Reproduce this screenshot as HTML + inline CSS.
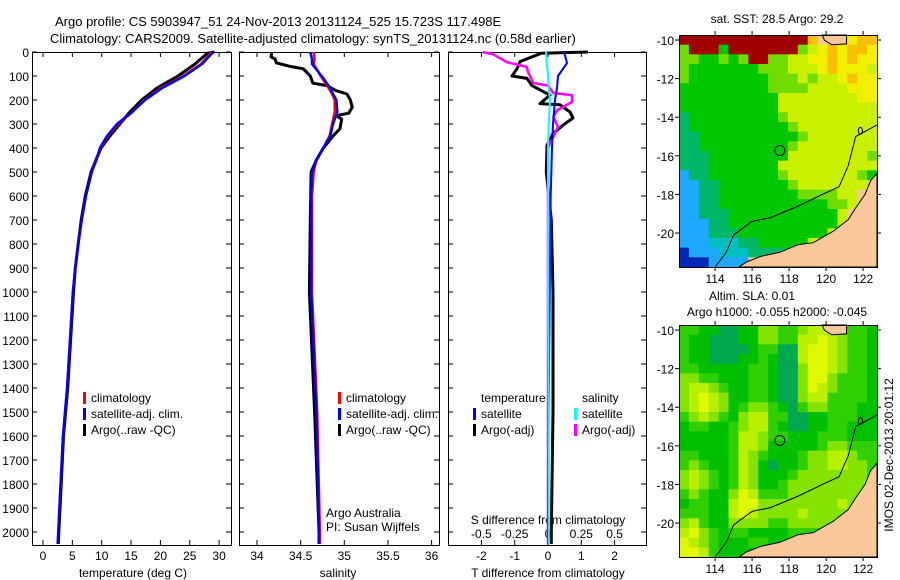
<!DOCTYPE html>
<html><head><meta charset="utf-8">
<style>
html,body{margin:0;padding:0;background:#fff;}
svg{display:block;font-family:"Liberation Sans",sans-serif;font-size:12px;}
</style></head>
<body>
<svg id="fig" width="900" height="580" viewBox="0 0 900 580" xmlns="http://www.w3.org/2000/svg">
<text x="55" y="26" font-size="13">Argo profile: CS 5903947_51 24-Nov-2013 20131124_525 15.723S 117.498E</text>
<text x="50" y="43" font-size="13">Climatology: CARS2009. Satellite-adjusted climatology: synTS_20131124.nc (0.58d earlier)</text>
<g id="g1"></g>
<g id="g2"></g>
<g id="g3"></g>
<g id="m1"></g>
<g id="m2"></g>
<text x="777" y="23" text-anchor="middle">sat. SST: 28.5 Argo: 29.2</text>
<text x="752" y="300" text-anchor="middle">Altim. SLA: 0.01</text>
<text x="777" y="316" text-anchor="middle">Argo h1000: -0.055 h2000: -0.045</text>
<text transform="translate(893,455) rotate(-90)" text-anchor="middle">IMOS 02-Dec-2013 20:01:12</text>
</svg>
<script>
// ---------- profile data ----------
const tDepth = [0,5,50,100,150,200,250,300,350,400,450,500,600,700,800,900,1000,1200,1400,1600,1800,2000,2050];
const tClim  = [28.7,28.6,26.9,23.9,20.1,17.3,15.2,12.8,11.0,9.8,9.0,8.3,7.3,6.6,6.0,5.5,5.1,4.6,4.1,3.4,3.0,2.6,2.5];
const tSat   = [28.9,28.8,27.1,24.1,20.3,17.4,15.2,12.6,10.9,9.7,9.1,8.3,7.3,6.6,6.0,5.5,5.1,4.6,4.1,3.4,3.0,2.6,2.5];
const tArgo  = [29.2,28.0,25.9,23.0,19.4,16.8,14.8,13.1,11.4,9.9,9.0,8.2,7.2,6.5,6.0,5.5,5.2,4.7,4.2,3.5,3.1,2.7,2.6];

const sDepth = [0,30,50,100,150,175,200,250,300,350,400,450,500,600,1000,1500,2000,2050];
const sClim  = [34.65,34.66,34.65,34.73,34.82,34.86,34.89,34.89,34.86,34.83,34.76,34.68,34.65,34.63,34.63,34.69,34.72,34.72];
const sSat   = [34.61,34.63,34.63,34.74,34.84,34.87,34.91,34.92,34.87,34.84,34.76,34.68,34.63,34.62,34.62,34.68,34.71,34.71];
const aDepth = [0,20,30,45,60,70,100,130,140,160,175,200,230,255,265,280,320,350,400,450,500,700,1000,1500,2000,2050];
const sArgo  = [34.17,34.16,34.21,34.22,34.38,34.53,34.61,34.64,34.80,34.90,35.03,35.07,35.09,35.05,34.91,34.97,34.95,34.87,34.76,34.68,34.62,34.61,34.60,34.66,34.71,34.71];

const dDepth = [0,46,100,150,200,250,300,400,600,1000,1500,2000,2050];
const dTsat  = [0.48,0.57,0.30,0.27,0.21,0.18,0.15,0.12,0.08,0.05,0.02,0.0,0.0];
const dSsat  = [-0.015,-0.01,0.0,0.005,0.015,0.01,0.005,0.0,0.0,0.0,0.005,0.005,0.005];
const daDepth= [0,5,40,70,100,110,140,180,215,220,250,275,305,340,390,500,700,1000,1500,2000,2050];
const dTargo = [1.2,-0.2,-0.84,-0.93,-1.08,-0.63,-0.48,0.06,-0.24,0.36,0.66,0.75,0.45,0.15,-0.03,-0.05,0.1,0.15,0.15,0.1,0.1];
const dsDepth= [0,10,42,62,83,129,140,171,180,208,242,270,312,354,400,600,1000,1500,2000,2050];
const dSargo = [-0.49,-0.41,-0.31,-0.16,-0.15,-0.11,0.0,0.04,0.18,0.18,0.07,0.04,0.075,0.04,0.0,0.0,0.0,0.0,0.0,0.0];

const depthTicks = [0,100,200,300,400,500,600,700,800,900,1000,1100,1200,1300,1400,1500,1600,1700,1800,1900,2000];
const tTicks = [0,5,10,15,20,25,30];
const sTicks = [34,34.5,35,35.5,36];
const sTickLabels = ["34","34.5","35","35.5","36"];
const dTTicks = [-2,-1,0,1,2];
const dSTicks = [-0.5,-0.25,0,0.25,0.5];
const dSTickLabels = ["-0.5","-0.25","0","0.25","0.5"];

// ---------- map data ----------
const sstRows = [
"RRRRRRRRRRRRR8LLL788","5RRR4RRRRRRR56787887","5544545RR55667787877","54444444555666787776",
"54444444455565667877","44444444455556666777","44444444446666666677","44444444446666666666",
"34444444445666666666","34444444444566666666","33444444444456666666","33444444444566666666",
"33344444444666666665","33344444446666666666","13344444445666666654","1133444444456666666L",
"113344444444555566LL","113344444444444556LL","11333444444444446LLL","11133444444444446LLL",
"1113334444444446LLLL","11122233444446LLLLLL","011122233334LLLLLLLL","0001111LLLLLLLLLLLLL"];
const slaRows = [
"33221122443345543332","32211122443355654332","32211112331156654332","32211122321156654332",
"33222223321146654332","44332223321146643332","45543223321146543332","45654223321145533332",
"45654234432134433322","34543245533112233322","23322345532112233222","22222355433222333222",
"22222355422222344333","33222354322234455433","34322354212234455443","45432354222344444443",
"45432354223444444444","34322465333444444444","23322566444444445444","33322565444454444444",
"45322444433444444444","56432332222333344444","65432223322222333444","66532222222222222444"];
const sstColors = {"0":"#0028b8","1":"#1ea8ff","3":"#00b868","4":"#00c800","5":"#70dc00","6":"#c8f000","7":"#f0f000","8":"#f8c000","R":"#a00000","L":"#f8c898","2":"#00c0c0"};
const slaColors = {"1":"#00a850","2":"#00c000","3":"#30d000","4":"#84e400","5":"#b8f000","6":"#e0f800"};
const landLon = [122.75,122.4,122.1,121.6,121.2,120.4,119.3,118.5,117.5,116.5,115.7,115.3,122.75];
const landLat = [-16.9,-17.3,-18.0,-18.7,-19.3,-19.9,-20.5,-20.6,-21.0,-21.2,-21.5,-21.76,-21.76];
const islLon = [119.8,121.1,121.1,120.3,119.9];
const islLat = [-9.74,-9.74,-10.2,-10.25,-10.0];
const isoLon = [122.75,121.6,121.2,120.7,119.8,118.5,117,116,115,114.6,114];
const isoLat = [-14.4,-15.0,-16.5,-17.6,-18.0,-18.6,-19.2,-19.4,-20.1,-21,-21.76];
const argoLon = 117.498, argoLat = -15.723;
const lonTicks = [114,116,118,120,122];
const latTicks = [-10,-12,-14,-16,-18,-20];

// ---------- helpers ----------
const NS="http://www.w3.org/2000/svg";
function mk(tag,attrs,parent){const e=document.createElementNS(NS,tag);for(const k in attrs)e.setAttribute(k,attrs[k]);parent.appendChild(e);return e;}
function txt(s,x,y,anchor,parent){const t=mk('text',{x:x,y:y,'text-anchor':anchor||'start'},parent);t.textContent=s;return t;}
const yD = d => 52 + d*0.24;
const PB = 545;

function frame(g,x0,x1,name){
  const r=mk('rect',{x:x0+0.5,y:52.5,width:x1-x0,height:PB-52,fill:'none',stroke:'#000','stroke-width':1},g);
  
  
  depthTicks.forEach(d=>{
    mk('line',{x1:x0,x2:x0+5,y1:yD(d),y2:yD(d),stroke:'#000'},g);
    mk('line',{x1:x1-5,x2:x1,y1:yD(d),y2:yD(d),stroke:'#000'},g);
  });
}
function xticks(g,xs,x0){xs.forEach(x=>{mk('line',{x1:x,x2:x,y1:PB,y2:PB-5,stroke:'#000'},g);mk('line',{x1:x,x2:x,y1:52,y2:57,stroke:'#000'},g);});}
function line(g,xs,ds,fx,color,w,name){
  const pts=xs.map((v,i)=>fx(v).toFixed(1)+','+yD(ds[i]).toFixed(1)).join(' ');
  const p=mk('polyline',{points:pts,fill:'none',stroke:color,'stroke-width':w,'stroke-linejoin':'round'},g);
  
  
}
function legend(g,x,y,color,label,name){
  if(color) mk('rect',{x:x,y:y-10,width:3,height:12,fill:color},g);
  const t=txt(label,x+8,y,'start',g);
  
  
}

// ---------- panel 1: temperature ----------
const g1=document.getElementById('g1');
const xT = t => 43 + t*5.87;
frame(g1,32,231,'temperature-axes');
xticks(g1,tTicks.map(xT));
depthTicks.forEach(d=>{const t=txt(String(d),29,yD(d)+5,'end',g1);});
tTicks.forEach(v=>{const t=txt(String(v),xT(v),560,'middle',g1);});
{const t=txt('temperature (deg C)',133,577,'middle',g1);}
line(g1,tArgo,tDepth,xT,'#000',3,'temperature-argo-line');
line(g1,tClim,tDepth,xT,'#f00',2.5,'temperature-climatology-line');
line(g1,tSat,tDepth,xT,'#00f',2.5,'temperature-satellite-line');
legend(g1,83,402,'#f00','climatology','legend-climatology');
legend(g1,83,418,'#00f','satellite-adj. clim.','legend-satellite-adj');
legend(g1,83,434,'#000','Argo(..raw -QC)','legend-argo');

// ---------- panel 2: salinity ----------
const g2=document.getElementById('g2');
const xS = s => 257 + (s-34)*87.3;
frame(g2,239,439,'salinity-axes');
xticks(g2,sTicks.map(xS));
sTicks.forEach((v,i)=>{const t=txt(sTickLabels[i],xS(v),560,'middle',g2);});
{const t=txt('salinity',338,577,'middle',g2);}
line(g2,sArgo,aDepth,xS,'#000',3,'salinity-argo-line');
line(g2,sClim,sDepth,xS,'#f00',2.5,'salinity-climatology-line');
line(g2,sSat,sDepth,xS,'#00f',2.5,'salinity-satellite-line');
legend(g2,338,402,'#f00','climatology','legend-climatology');
legend(g2,338,418,'#00f','satellite-adj. clim.','legend-satellite-adj');
legend(g2,338,434,'#000','Argo(..raw -QC)','legend-argo');
{const t=txt('Argo Australia',326,517,'start',g2);}
{const t=txt('PI: Susan Wijffels',326,531,'start',g2);}

// ---------- panel 3: differences ----------
const g3=document.getElementById('g3');
const xDT = v => 548 + v*33.3;
const xDS = v => 548 + v*133.2;
frame(g3,448,646,'difference-axes');
xticks(g3,dTTicks.map(xDT));
dTTicks.forEach(v=>{const t=txt(String(v),xDT(v),560,'middle',g3);});
dSTicks.forEach((v,i)=>{const t=txt(dSTickLabels[i],xDS(v),538,'middle',g3);});
{const t=txt('S difference from climatology',548,524,'middle',g3);}
{const t=txt('T difference from climatology',548,577,'middle',g3);}
line(g3,dTargo,daDepth,xDT,'#000',3,'t-diff-argo-line');
line(g3,dSargo,dsDepth,xDS,'#f0f',2.5,'s-diff-argo-line');
line(g3,dTsat,dDepth,xDT,'#00f',2,'t-diff-satellite-line');
line(g3,dSsat,dDepth,xDS,'#0ff',2,'s-diff-satellite-line');
legend(g3,473,402,null,'temperature','legend-temperature-header');
legend(g3,574,402,null,'salinity','legend-salinity-header');
legend(g3,473,418,'#00f','satellite','legend-t-satellite');
legend(g3,574,418,'#0ff','satellite','legend-s-satellite');
legend(g3,473,434,'#000','Argo(-adj)','legend-t-argo');
legend(g3,574,434,'#f0f','Argo(-adj)','legend-s-argo');

// ---------- maps ----------
const LON0=112.05, LON1=122.75, LAT0=-9.74, LAT1=-21.76;
function drawMap(g,top,bot,rows,colors,name){
  const L=679,R=877;
  const fx = lon => L + (lon-LON0)/(LON1-LON0)*(R-L);
  const fy = lat => top + (lat-LAT0)/(LAT1-LAT0)*(bot-top);
  const nr=rows.length, nc=rows[0].length;
  const cw=(R-L)/nc, ch=(bot-top)/nr;
  rows.forEach((row,r)=>{
    for(let c=0;c<nc;c++){
      const cell=mk('rect',{x:(L+c*cw).toFixed(2),y:(top+r*ch).toFixed(2),width:(cw+0.4).toFixed(2),height:(ch+0.4).toFixed(2),fill:colors[row[c]]||'#00c800'},g);
      
      
    }
  });
  const land=mk('polygon',{points:landLon.map((v,i)=>fx(v).toFixed(1)+','+fy(landLat[i]).toFixed(1)).join(' '),fill:'#f8c898',stroke:'#000','stroke-width':1},g);
  
  
  const isl=mk('polygon',{points:islLon.map((v,i)=>fx(v).toFixed(1)+','+fy(islLat[i]).toFixed(1)).join(' '),fill:'#f8c898',stroke:'#000','stroke-width':1},g);
  
  
  const iso=mk('polyline',{points:isoLon.map((v,i)=>fx(v).toFixed(1)+','+fy(isoLat[i]).toFixed(1)).join(' '),fill:'none',stroke:'#000','stroke-width':1},g);
  
  
  mk('ellipse',{cx:fx(121.85),cy:fy(-14.7),rx:2,ry:3.5,fill:'none',stroke:'#000'},g);
  const pt=mk('circle',{cx:fx(argoLon),cy:fy(argoLat),r:5,fill:'none',stroke:'#000','stroke-width':1},g);
  
  
  mk('rect',{x:L+0.5,y:top+0.5,width:R-L,height:bot-top,fill:'none',stroke:'#000'},g);
  lonTicks.forEach(v=>{
    mk('line',{x1:fx(v),x2:fx(v),y1:bot,y2:bot+4,stroke:'#000'},g);
    mk('line',{x1:fx(v),x2:fx(v),y1:top,y2:top-4,stroke:'#000'},g);
    const t=txt(String(v),fx(v),bot+16,'middle',g);
    
    
  });
  latTicks.forEach(v=>{
    mk('line',{x1:L,x2:L-4,y1:fy(v),y2:fy(v),stroke:'#000'},g);
    mk('line',{x1:R,x2:R+4,y1:fy(v),y2:fy(v),stroke:'#000'},g);
    const t=txt(String(v),L-5,fy(v)+5,'end',g);
    
    
  });
}
drawMap(document.getElementById('m1'),35,267,sstRows,sstColors,'sst');
drawMap(document.getElementById('m2'),325,557,slaRows,slaColors,'sla');
</script>
</body></html>
